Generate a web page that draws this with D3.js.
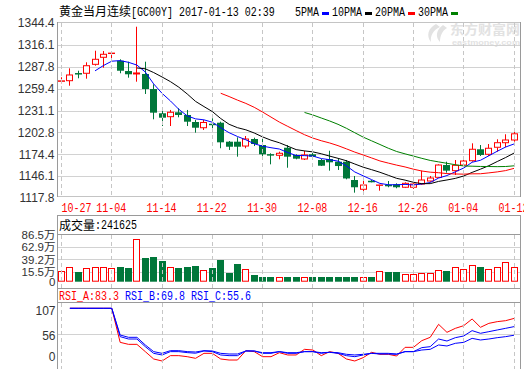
<!DOCTYPE html>
<html><head><meta charset="utf-8">
<script src="https://cdn.jsdelivr.net/npm/d3@7/dist/d3.min.js"></script>
<style>html,body{margin:0;padding:0;background:#fff;}svg{display:block;}</style>
</head><body>
<script>
// ---------- DATA ----------
const dates = ["10-27","10-28","10-31","11-01","11-02","11-03","11-04","11-07","11-08","11-09","11-10","11-11","11-14","11-15","11-16","11-17","11-18","11-21","11-22","11-23","11-24","11-25","11-28","11-29","11-30","12-01","12-02","12-05","12-06","12-07","12-08","12-09","12-12","12-13","12-14","12-15","12-16","12-19","12-20","12-21","12-22","12-23","12-26","12-27","12-28","12-29","12-30","01-03","01-04","01-05","01-06","01-09","01-10","01-11","01-12"];
const tickLabels = ["10-27","11-04","11-14","11-22","11-30","12-08","12-16","12-26","01-04","01-12"];
const open  = [1268.9,1269.7,1279.6,1279.3,1290.9,1300.0,1304.9,1295.6,1282.2,1278.4,1278.4,1258.9,1227.5,1223.1,1228.8,1225.3,1216.2,1208.8,1214.0,1215.3,1190.7,1190.7,1185.1,1194.2,1186.4,1174.6,1173.1,1182.9,1173.5,1168.3,1174.4,1167.0,1168.3,1164.8,1164.8,1141.1,1129.1,1140.1,1134.2,1134.9,1135.5,1131.7,1131.7,1135.9,1139.8,1144.6,1160.5,1153.2,1160.5,1166.1,1180.9,1174.4,1183.5,1189.4,1192.9];
const close = [1269.5,1277.1,1279.0,1289.1,1297.4,1303.9,1305.4,1282.6,1278.0,1279.7,1258.9,1228.3,1221.8,1228.8,1225.3,1216.6,1208.8,1215.6,1213.3,1189.9,1184.2,1184.2,1194.2,1187.7,1174.4,1174.1,1175.7,1171.3,1168.7,1173.5,1171.3,1159.6,1164.0,1159.2,1143.1,1131.7,1134.6,1139.5,1134.6,1134.4,1131.7,1136.8,1135.9,1141.1,1143.7,1160.5,1153.2,1160.1,1165.7,1180.9,1173.5,1182.2,1189.4,1192.9,1200.9];
const high  = [1274.1,1285.7,1282.6,1293.5,1308.5,1308.1,1308.1,1297.4,1294.3,1339.6,1294.3,1265.0,1231.8,1231.8,1234.0,1231.8,1218.8,1218.8,1221.0,1216.6,1191.6,1196.4,1198.1,1195.9,1194.2,1175.7,1177.8,1186.4,1174.4,1179.0,1177.8,1168.3,1179.0,1168.3,1167.0,1146.3,1144.1,1141.1,1134.8,1139.8,1136.8,1138.1,1136.8,1153.2,1146.3,1161.4,1164.8,1167.0,1169.2,1188.6,1186.4,1187.7,1193.8,1200.3,1208.2];
const low   = [1266.3,1263.2,1272.8,1272.3,1289.1,1286.5,1298.7,1279.3,1273.6,1268.4,1252.5,1219.7,1211.0,1211.0,1222.3,1211.0,1202.4,1205.9,1205.9,1182.2,1180.0,1171.3,1182.2,1185.1,1168.7,1161.4,1167.9,1157.0,1167.9,1167.0,1170.5,1159.2,1153.2,1154.1,1142.0,1124.7,1123.0,1138.1,1127.3,1131.7,1130.4,1130.7,1129.5,1135.0,1138.9,1143.7,1150.6,1147.6,1159.6,1164.8,1172.2,1172.2,1177.8,1183.5,1190.7];
// volume in 万 (10k)
const volume = [16.8,24.6,15.5,22,24.6,24.6,22,24.6,22.6,78.1,42,43.9,36.2,24.6,22.6,24.6,26.5,18.8,22.6,38.1,13.6,30.4,20,9.1,5.2,5.2,4.6,5.2,5.2,4.6,5.2,5.2,5.2,5.2,5.2,5.2,4.6,5.2,16.8,14.9,14.9,11,11,13,13,18.1,16.8,23.9,20.7,27.8,24.6,20.7,23.9,33.6,24.1625];
const rsiA = [null,100,100,100,100,100,100,43.9,40.6,40.6,28.6,16.5,13.2,22,22,20.3,17.6,25.8,25.8,16.5,14.8,14.8,30.2,28.6,20.3,20.3,26.9,23.1,23.1,32.4,31.3,22,28.6,25.8,16.5,13.2,18.7,27.5,24.2,24.2,21.4,35.7,35.7,46.7,52.2,73.6,60.4,67,71.4,82.4,68.7,75.2,78,79.6,83.3];
const rsiB = [null,100,100,100,100,100,100,53.3,49.4,49.4,36.8,25.8,23.1,28.6,28.6,27,26,29.7,28.6,23.1,22,22,29.7,29.7,25.8,25.8,28.6,25.8,25.8,28.6,28.6,25.8,27.5,25.8,22,20.3,23.1,25.8,24.7,24.7,24.2,28.6,28.6,35.2,36.8,49.4,46.1,51.6,54.4,63.2,58.8,61.5,64.3,67,69.8];
const rsiC = [null,100,100,100,100,100,100,56,52.2,52.2,39.6,28.6,25.8,30.2,30.2,28.6,28,30.2,29.7,25.8,24.7,24.7,29.7,29.7,26.9,26.9,28.6,26.9,26.9,28.6,28.6,26.9,27.5,26.9,24.2,23.1,24.2,25.8,25.8,25.8,24.7,28.6,28.6,31.3,32.4,39.6,37.9,42.3,43.9,50.5,47.8,49.4,51.6,53.3,55.6];
const priceTicks = [1344.4,1316.1,1287.8,1259.4,1231.1,1202.8,1174.4,1146.1,1117.8];
const volTicks = [86.5,62.9,39.2,15.5,0];
const rsiTicks = [107,56,0];
const maPeriods = [5,10,20,30];
const maNames = ["5PMA","10PMA","20PMA","30PMA"];

// ---------- STYLE ----------
const RED="#ff0000", GREEN="#00773a", BLUE="#0000ff";
const maColors=[BLUE,"#000000",RED,"#008000"];
const MONO="'Liberation Mono','DejaVu Sans Mono',monospace";
const SANS="'Liberation Sans',Arial,'Noto Sans CJK SC',sans-serif";
const CJK="'Noto Sans CJK SC','Noto Sans CJK JP',sans-serif";
const FRAME="#9a9a9a", GRID="#d2d2d2", DASH="#c6c6c6";

const W=524,H=369;
const L=57.5, R=520.5;
const svg=d3.select("body").append("svg").attr("width",W).attr("height",H);

const x=d3.scalePoint().domain(dates).range([61,513.5]);
const cx=d=>Math.round(x(d));
const yP=d3.scaleLinear().domain([1117.8,1344.4]).range([198,23]);
const yV=d3.scaleLinear().domain([0,86.5]).range([279.7,235]);
const yR=d3.scaleLinear().domain([0,100]).range([369,308.3]);
const yRlab=d3.scaleLinear().domain([0,56,107]).range([357,335.5,311]);

// monospace text: 10px Liberation Mono (6px advance) stretched vertically to look like a 12px bitmap font
function mono(g,xx,yy,str,fill,anchor){
  return g.append("text").attr("transform",`translate(${xx},${yy}) scale(1,1.25)`)
   .attr("fill",fill||"#000")
   .attr("font-family",MONO).attr("font-size",10)
   .attr("text-anchor",anchor||"start").text(str);
}
const crisp=v=>Math.round(v)+0.5;

// ---------- TITLE + LEGEND ----------
svg.append("text").attr("x",59).attr("y",16).attr("font-family",CJK).attr("font-size",12).attr("fill","#000").text("黄金当月连续");
mono(svg,131,16,"[GC00Y] 2017-01-13 02:39");
let lx=295;
maNames.forEach((n,k)=>{
  mono(svg,lx,16,n);
  lx+=n.length*6+3;
  svg.append("rect").attr("x",Math.round(lx)).attr("y",12).attr("width",7).attr("height",3).attr("fill",maColors[k]);
  lx+=7+3;
});

// ---------- MAIN PANEL ----------
const gm=svg.append("g");
// watermark
const wm=gm.append("g").attr("fill","#e2e2e2");
wm.append("path").attr("d","M436,24 C428,28 426,36 431,42 C430,36 433,30 440,27 Z M443,25 C436,30 435,37 440,42 C440,36 442,31 447,28 Z");
wm.append("text").attr("x",450).attr("y",34).attr("font-family",CJK).attr("font-size",13).attr("font-weight","bold").attr("textLength",70).attr("lengthAdjust","spacingAndGlyphs").text("东方财富网");
wm.append("text").attr("x",452).attr("y",45).attr("font-family",SANS).attr("font-size",8).attr("font-weight","bold").attr("textLength",68).attr("lengthAdjust","spacingAndGlyphs").text("eastmoney.com");

// horizontal grid
priceTicks.slice(1,-1).forEach(v=>{
  gm.append("line").attr("x1",L).attr("x2",R).attr("y1",crisp(yP(v))).attr("y2",crisp(yP(v))).attr("stroke",GRID);
});
// vertical dashed grid
const tickIdx=dates.map((d,i)=>i).filter(i=>tickLabels.includes(dates[i]));
function vgrid(y1,y2){
  tickIdx.forEach(i=>{
    svg.append("line").attr("x1",cx(dates[i])+0.5).attr("x2",cx(dates[i])+0.5).attr("y1",y1).attr("y2",y2)
      .attr("stroke",DASH).attr("stroke-dasharray","4,3");
  });
}
vgrid(23,196);
// frame
gm.append("line").attr("x1",L).attr("x2",R).attr("y1",22.5).attr("y2",22.5).attr("stroke","#c4c4c4");
gm.append("line").attr("x1",L).attr("x2",R).attr("y1",196.5).attr("y2",196.5).attr("stroke","#c4c4c4");
gm.append("line").attr("x1",L).attr("x2",L).attr("y1",22).attr("y2",197).attr("stroke",FRAME);
gm.append("line").attr("x1",R).attr("x2",R).attr("y1",22).attr("y2",197).attr("stroke",FRAME);
// price labels
priceTicks.forEach(v=>{
  gm.append("text").attr("x",54.5).attr("y",yP(v)).attr("dy","0.36em").attr("text-anchor","end")
    .attr("font-family",SANS).attr("font-size",12).attr("fill","#333").text(v.toFixed(1));
});

// candles
const candles=dates.map((d,i)=>({d,o:open[i],h:high[i],l:low[i],c:close[i],v:volume[i]}));
const gc=gm.append("g");
candles.forEach(k=>{
  const px=cx(k.d);
  if(k.c>=k.o){
    const top=yP(k.c), bot=yP(k.o);
    gc.append("line").attr("x1",px+0.5).attr("x2",px+0.5).attr("y1",yP(k.h)).attr("y2",top).attr("stroke",RED);
    gc.append("line").attr("x1",px+0.5).attr("x2",px+0.5).attr("y1",bot).attr("y2",yP(k.l)).attr("stroke",RED);
    gc.append("rect").attr("x",px-2.5).attr("y",top).attr("width",6).attr("height",Math.max(0.01,bot-top))
      .attr("fill","#fff").attr("stroke",RED);
  } else {
    const top=yP(k.o), bot=yP(k.c);
    gc.append("line").attr("x1",px+0.5).attr("x2",px+0.5).attr("y1",yP(k.h)).attr("y2",yP(k.l)).attr("stroke",GREEN);
    gc.append("rect").attr("x",px-3).attr("y",top).attr("width",7).attr("height",Math.max(1.5,bot-top)).attr("fill",GREEN);
  }
});
// moving averages of close
function sma(arr,n){return arr.map((v,i)=>i<n-1?null:d3.mean(arr.slice(i-n+1,i+1)));}
const lineP=d3.line().defined(d=>d.v!=null).x(d=>x(d.d)+0.5).y(d=>yP(d.v));
maPeriods.forEach((n,k)=>{
  const m=sma(close,n).map((v,i)=>({d:dates[i],v}));
  gm.append("path").attr("d",lineP(m)).attr("fill","none").attr("stroke",maColors[k]).attr("stroke-width",1);
});

// x labels
tickIdx.forEach(i=>{
  let c=x(dates[i]);
  const w=dates[i].length*6;
  c=Math.max(c,L+4+w/2);
  mono(svg,c,211.5,dates[i],RED,"middle");
});

// ---------- VOLUME PANEL ----------
const gv=svg.append("g");
gv.append("rect").attr("x",L).attr("y",215.5).attr("width",R-L).attr("height",19).attr("fill","#fff").attr("stroke",FRAME);
gv.append("text").attr("x",59).attr("y",229.5).attr("font-family",CJK).attr("font-size",12).attr("fill","#000").text("成交量");
mono(gv,95,229,":"+Math.round(volume[volume.length-1]*10000));
volTicks.slice(1,-1).forEach(v=>{
  gv.append("line").attr("x1",L).attr("x2",R).attr("y1",crisp(yV(v))).attr("y2",crisp(yV(v))).attr("stroke",GRID);
});
vgrid(235,288);
gv.append("line").attr("x1",L).attr("x2",L).attr("y1",234).attr("y2",289).attr("stroke",FRAME);
gv.append("line").attr("x1",R).attr("x2",R).attr("y1",234).attr("y2",289).attr("stroke",FRAME);
gv.append("line").attr("x1",L).attr("x2",R).attr("y1",288.5).attr("y2",288.5).attr("stroke",FRAME);
volTicks.forEach(v=>{
  gv.append("text").attr("x",55.5).attr("y",v===0?yV(v)+2.5:yV(v)).attr("dy","0.36em").attr("text-anchor","end")
    .attr("font-family",SANS).attr("font-size",11.5).attr("fill","#333").text(v===0?"0":v.toFixed(1)+"万");
});
const vBase=yV(0)+2;
candles.forEach(k=>{
  const px=cx(k.d), top=yV(k.v);
  if(k.c>=k.o){
    gv.append("rect").attr("x",px-2.5).attr("y",Math.round(top)+0.5).attr("width",6).attr("height",Math.max(0,vBase-Math.round(top)-1))
      .attr("fill","#fff").attr("stroke",RED);
  } else {
    gv.append("rect").attr("x",px-3).attr("y",Math.round(top)).attr("width",7).attr("height",vBase-Math.round(top)).attr("fill",GREEN);
  }
});

// ---------- RSI PANEL ----------
const gr=svg.append("g");
gr.append("rect").attr("x",L).attr("y",288.5).attr("width",R-L).attr("height",14).attr("fill","#fff").attr("stroke",FRAME);
const last=a=>a[a.length-1].toFixed(1);
mono(gr,59,299.5,"RSI_A:"+last(rsiA),RED);
mono(gr,125,299.5,"RSI_B:"+last(rsiB),BLUE);
mono(gr,191,299.5,"RSI_C:"+last(rsiC),BLUE);
gr.append("line").attr("x1",L).attr("x2",R).attr("y1",crisp(yR(56))-1).attr("y2",crisp(yR(56))-1).attr("stroke",GRID);
vgrid(303,369);
gr.append("line").attr("x1",L).attr("x2",L).attr("y1",302).attr("y2",369).attr("stroke",FRAME);
gr.append("line").attr("x1",R).attr("x2",R).attr("y1",302).attr("y2",369).attr("stroke",FRAME);
rsiTicks.forEach(v=>{
  gr.append("text").attr("x",55.5).attr("y",yRlab(v)).attr("dy","0.36em").attr("text-anchor","end")
    .attr("font-family",SANS).attr("font-size",12).attr("fill","#333").text(String(v));
});
const lineR=d3.line().defined(d=>d.v!=null).x(d=>x(d.d)+0.5).y(d=>yR(d.v));
[[rsiA,RED],[rsiC,BLUE],[rsiB,BLUE]].forEach(([arr,col])=>{
  gr.append("path").attr("d",lineR(arr.map((v,i)=>({d:dates[i],v})))).attr("fill","none").attr("stroke",col).attr("stroke-width",1);
});
</script>
</body></html>
